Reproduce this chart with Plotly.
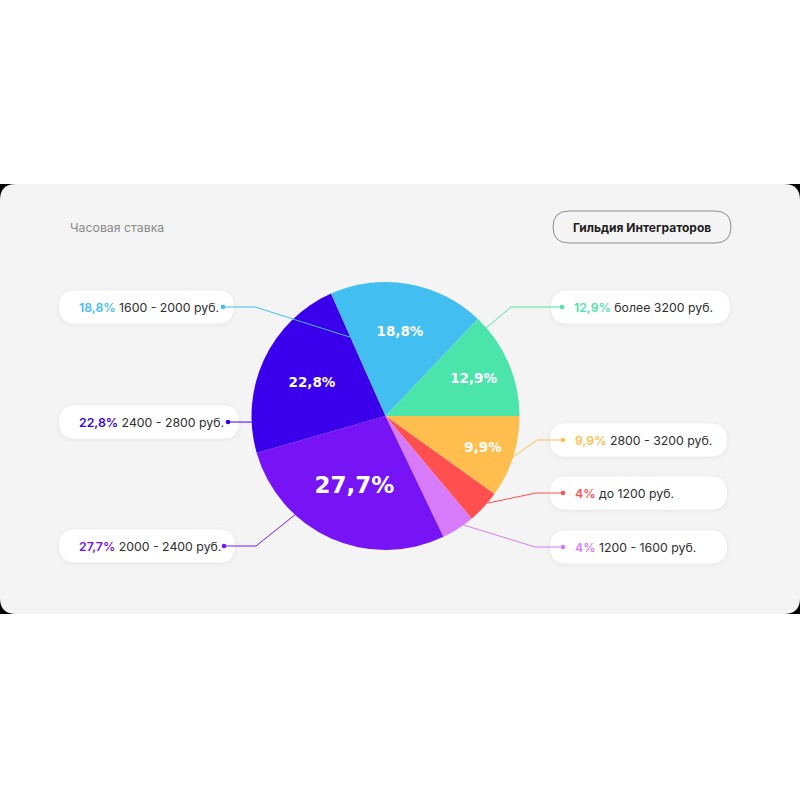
import math
import plotly.graph_objects as go

# ---------------- data ----------------
ranges = ["2800 - 3200 руб.", "до 1200 руб.", "1200 - 1600 руб.", "2000 - 2400 руб.",
          "2400 - 2800 руб.", "1600 - 2000 руб.", "более 3200 руб."]
values = [9.9, 4, 4, 27.7, 22.8, 18.8, 12.9]
pct_labels = ["9,9%", "4%", "4%", "27,7%", "22,8%", "18,8%", "12,9%"]
colors = ["#FFBE4E", "#FF4F4F", "#D77BFB", "#7614F5", "#3A00EB", "#42BEF0", "#4BE4AA"]
title_text = "Часовая ставка"
badge_text = "Гильдия Интеграторов"

# ---------------- style / layout ----------------
W = H = 800
CX, CY, R = 385.5, 416.0, 134.0
inside_show = [True, False, False, True, True, True, True]
inside_size = [13.5, 13, 13, 23, 13.5, 13.5, 13.5]

# per slice: side, pill x0, x1, center y, dot x, elbow x, anchor angle (deg cw from east), radius frac
callouts = [
    ("right", 550, 727, 440, 563, 537, 17.8, 1.0),
    ("right", 550, 727, 493, 563, 536, 40.6, 1.0),
    ("right", 550, 727, 547, 563, 535, 54.4, 1.0),
    ("left", 59, 235, 546, 224, 256, 132.5, 1.0),
    ("left", 59, 239, 422, 228, None, 177.4, 1.0),
    ("left", 59, 234, 307, 223, 255, 245.8, 0.645),
    ("right", 551, 730, 307, 562, 511, 318.8, 1.0),
]
PILL_H = 33
FONT = "Inter"
PIE_FONT = "DejaVu Sans"


def rrect(x0, y0, x1, y1, r):
    return (f"M {x0+r},{y0} L {x1-r},{y0} Q {x1},{y0} {x1},{y0+r} "
            f"L {x1},{y1-r} Q {x1},{y1} {x1-r},{y1} L {x0+r},{y1} "
            f"Q {x0},{y1} {x0},{y1-r} L {x0},{y0+r} Q {x0},{y0} {x0+r},{y0} Z")


shapes = []
# dark backdrop visible only at the card corners
shapes.append(dict(type="rect", xref="x", yref="y", x0=0, x1=800, y0=184, y1=614,
                   fillcolor="#000000", line=dict(width=0), layer="below"))
shapes.append(dict(type="path", xref="x", yref="y", path=rrect(0, 184, 800, 614, 16),
                   fillcolor="#F4F4F4", line=dict(width=0), layer="below"))
# badge outline
shapes.append(dict(type="path", xref="x", yref="y", path=rrect(553, 211, 731, 243, 16),
                   fillcolor="rgba(0,0,0,0)", line=dict(color="#8E8E8E", width=1), layer="below"))

annotations = []
annotations.append(dict(x=68, y=227, xref="x", yref="y", text=title_text, showarrow=False,
                        xanchor="left", yanchor="middle",
                        font=dict(family=FONT, size=12.3, color="#8A8A8A")))
annotations.append(dict(x=642, y=227, xref="x", yref="y", text=f"<b>{badge_text}</b>", showarrow=False,
                        xanchor="center", yanchor="middle",
                        font=dict(family=FONT, size=12, color="#1E1E1E")))

for i, (side, px0, px1, pcy, dx, ex, ang, rf) in enumerate(callouts):
    y0, y1 = pcy - PILL_H / 2, pcy + PILL_H / 2
    # soft shadow
    for k, a in [(4, 0.006), (2.5, 0.009), (1.2, 0.012)]:
        shapes.append(dict(type="path", xref="x", yref="y",
                           path=rrect(px0 - k, y0 - k + 1, px1 + k, y1 + k + 1, PILL_H / 2 + k),
                           fillcolor=f"rgba(0,0,0,{a})", line=dict(width=0), layer="below"))
    shapes.append(dict(type="path", xref="x", yref="y", path=rrect(px0, y0, px1, y1, PILL_H / 2),
                       fillcolor="#FFFFFF", line=dict(width=0), layer="below"))
    # leader line
    t = math.radians(ang)
    ax_ = CX + R * rf * math.cos(t)
    ay_ = CY + R * rf * math.sin(t)
    if ex is None:
        path = f"M {dx},{pcy} L {ax_},{ay_}"
    else:
        path = f"M {dx},{pcy} L {ex},{pcy} L {ax_},{ay_}"
    shapes.append(dict(type="path", xref="x", yref="y", path=path,
                       line=dict(color=colors[i], width=1)))
    shapes.append(dict(type="circle", xref="x", yref="y", x0=dx - 2.3, x1=dx + 2.3,
                       y0=pcy - 2.3, y1=pcy + 2.3, fillcolor=colors[i], line=dict(width=0)))
    txt = (f"<span style='color:{colors[i]};font-weight:600'>{pct_labels[i]}</span>"
           f" {ranges[i]}")
    if side == "left":
        tx = px0 + 18
    else:
        tx = dx + 10
    annotations.append(dict(x=tx, y=pcy, xref="x", yref="y", text=txt, showarrow=False,
                            xanchor="left", yanchor="middle",
                            font=dict(family=FONT, size=12.3, color="#2E2E2E")))

inside_text = [p if s else "" for p, s in zip(pct_labels, inside_show)]

fig = go.Figure()
fig.add_trace(go.Pie(
    values=values, labels=ranges, text=inside_text, textinfo="text",
    textposition="inside", insidetextorientation="horizontal",
    sort=False, direction="clockwise", rotation=90,
    marker=dict(colors=colors, line=dict(width=0)),
    textfont=dict(family=PIE_FONT, size=inside_size, color="#FFFFFF", weight="bold"),
    hoverinfo="skip", showlegend=False,
    domain=dict(x=[(CX - R) / W, (CX + R) / W], y=[1 - (CY + R) / H, 1 - (CY - R) / H]),
))
# invisible helper trace to set up pixel axes
fig.add_trace(go.Scatter(x=[0, 800], y=[0, 800], mode="markers",
                         marker=dict(opacity=0), hoverinfo="skip", showlegend=False))

fig.update_layout(
    width=W, height=H, margin=dict(l=0, r=0, t=0, b=0),
    paper_bgcolor="#FFFFFF", plot_bgcolor="rgba(0,0,0,0)",
    xaxis=dict(range=[0, 800], visible=False, fixedrange=True),
    yaxis=dict(range=[800, 0], visible=False, fixedrange=True),
    shapes=shapes, annotations=annotations,
)
fig.write_html("out.html", config=dict(displayModeBar=False),
               post_script="document.body.style.margin='0';document.body.style.overflow='hidden';")
